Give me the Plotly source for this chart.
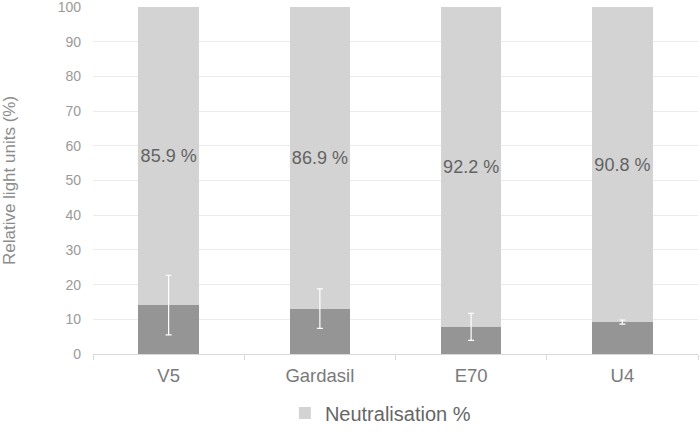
import plotly.graph_objects as go

categories = ["V5", "Gardasil", "E70", "U4"]
neutralisation = [85.9, 86.9, 92.2, 90.8]
residual = [14.1, 13.1, 7.8, 9.2]
residual_err = [8.6, 5.7, 3.9, 0.6]
y_ticks = [0, 10, 20, 30, 40, 50, 60, 70, 80, 90, 100]

FONT = "Liberation Sans, Arial, sans-serif"

fig = go.Figure()
fig.add_trace(go.Bar(
    x=categories, y=residual, name="Residual",
    marker=dict(color="#959595", line=dict(width=0)),
    showlegend=False, width=0.4, hoverinfo="skip",
))
fig.add_trace(go.Bar(
    x=categories, y=neutralisation, name="Neutralisation %",
    marker=dict(color="#d3d3d3", line=dict(width=0)),
    text=[f"{v} %" for v in neutralisation],
    textposition="inside", insidetextanchor="middle",
    constraintext="none", textangle=0,
    textfont=dict(family=FONT, size=18, color="#636363"),
    width=0.4,
))
fig.add_trace(go.Scatter(
    x=categories, y=residual, mode="markers",
    marker=dict(size=1, color="rgba(0,0,0,0)"),
    error_y=dict(type="data", array=residual_err, visible=True,
                 color="#ffffff", thickness=1.2, width=3),
    showlegend=False, hoverinfo="skip",
))

fig.update_layout(
    barmode="stack",
    width=700, height=432,
    margin=dict(l=93, r=2, t=7, b=78, autoexpand=False),
    paper_bgcolor="white", plot_bgcolor="white",
    font=dict(family=FONT, color="#8c8c8c"),
    legend=dict(orientation="h", x=0.475, xanchor="center", y=-0.17, yanchor="middle",
                font=dict(size=20, color="#666666"), itemwidth=30),
    xaxis=dict(
        showline=True, linecolor="#d9d9d9", linewidth=1,
        ticks="outside", tickson="boundaries", ticklen=5, tickcolor="#d9d9d9",
        tickfont=dict(size=18.5, color="#7a7a7a"), showgrid=False,
        ticklabelstandoff=5,
    ),
    yaxis=dict(
        range=[0, 100.05], tickvals=y_ticks, showgrid=True, gridcolor="#ebebeb",
        gridwidth=1, zeroline=False, showline=False,
        tickfont=dict(size=14, color="#9a9a9a"), ticklabelstandoff=11,
        ticklabeloverflow="allow",
        title=dict(text="Relative light units (%)", font=dict(size=17, color="#8c8c8c"),
                   standoff=46),
    ),
)

fig.write_html("out.html", config={"displayModeBar": False},
               post_script="document.body.style.margin='0';")
